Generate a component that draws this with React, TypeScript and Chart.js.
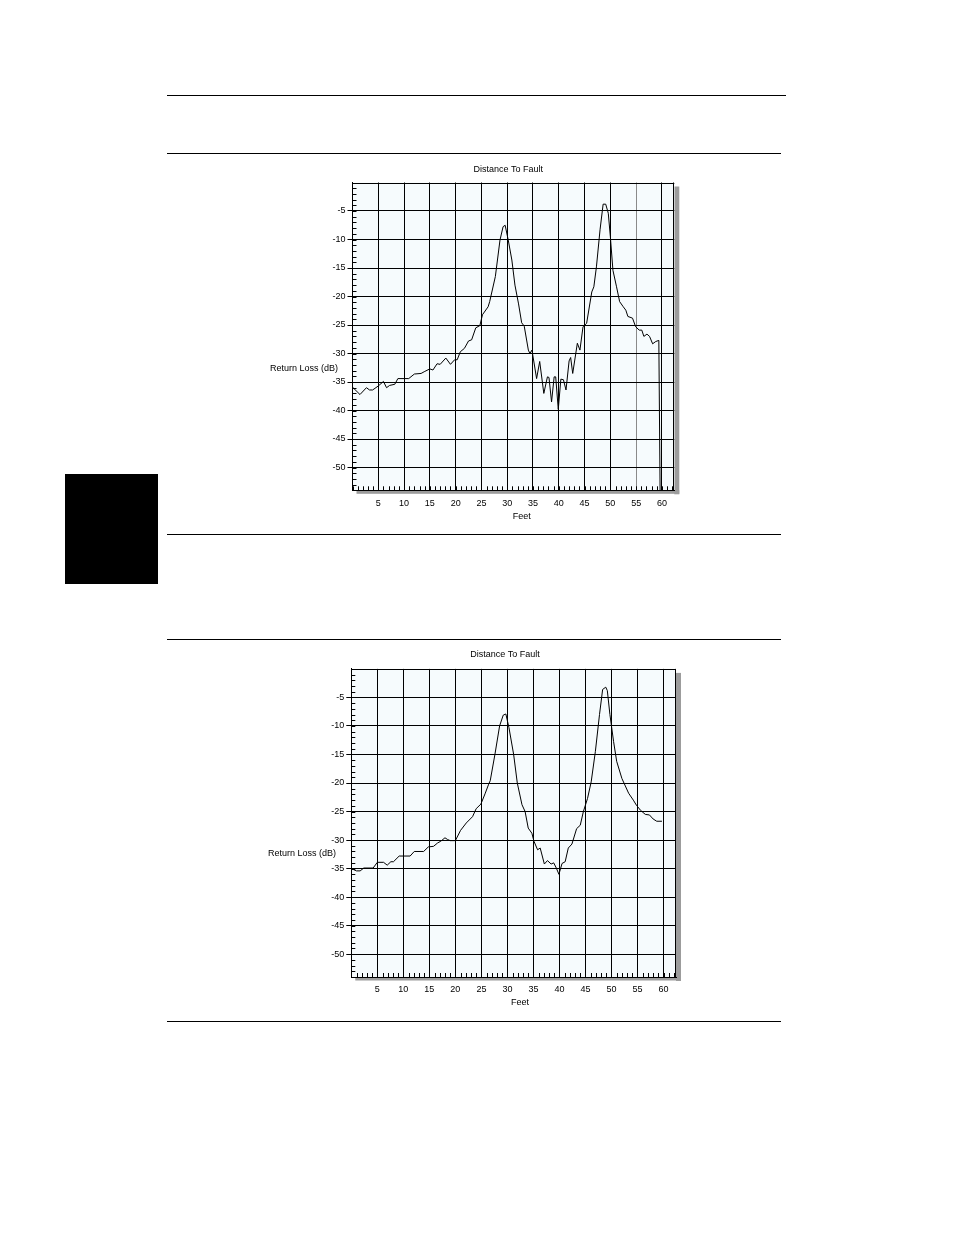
import React, { useEffect, useRef } from "react";
import { Chart, registerables } from "chart.js";

Chart.register(...registerables);

const FONT = '"Liberation Sans", Arial, Helvetica, sans-serif';

const feetTicks = [5, 10, 15, 20, 25, 30, 35, 40, 45, 50, 55, 60];
const lossTicks = [-50, -45, -40, -35, -30, -25, -20, -15, -10, -5];

// first trace (noisy)
const dtf1Feet = [
  0, 1.45, 2.7, 3.3, 3.9, 5.0, 6.0, 6.6, 7.2, 8.2, 8.8, 10.9, 12.0, 13.3, 13.9, 15.0, 15.6, 16.4, 17.0,
  18.1, 19.0, 19.8, 20.3, 20.9, 21.7, 22.5, 23.1, 23.9, 24.7, 25.2, 26.3, 26.6, 27.7, 28.6, 29.2, 29.6,
  30.2, 30.9, 31.5, 32.2, 32.8, 33.3, 34.1, 34.4, 34.8, 35.7, 36.3, 37.1, 37.8, 38.1, 38.6, 39.1, 39.4,
  39.9, 40.4, 40.9, 41.4, 42.0, 42.3, 42.7, 43.6, 44.1, 44.7, 45.4, 46.4, 46.8, 47.3, 48.0, 48.6, 49.1,
  49.6, 50.0, 50.5, 51.2, 51.8, 52.5, 53.0, 53.4, 54.3, 54.9, 55.6, 56.1, 56.5, 57.1, 57.6, 58.2, 58.8,
  59.4, 59.7,
];
const dtf1Loss = [
  -35.9, -37.2, -36.0, -36.4, -36.4, -35.7, -34.9, -36.0, -35.6, -35.4, -34.4, -34.4, -33.6, -33.5, -33.2,
  -32.7, -32.9, -31.8, -31.9, -30.8, -31.9, -31.1, -31.1, -29.7, -29.1, -27.8, -27.6, -25.5, -25.1, -23.2,
  -21.8, -20.9, -16.5, -10.1, -7.75, -7.5, -10.1, -13.6, -18.0, -21.3, -24.6, -25.2, -29.4, -30.0, -29.4,
  -34.4, -31.4, -37.0, -34.1, -34.2, -38.5, -34.1, -34.1, -39.8, -34.5, -34.6, -36.4, -31.3, -30.7, -33.5,
  -28.2, -29.4, -25.3, -24.7, -19.2, -18.3, -14.8, -8.3, -3.8, -3.8, -5.4, -9.5, -15.4, -18.3, -20.9,
  -21.8, -22.4, -23.5, -23.8, -25.3, -25.9, -25.9, -27.0, -26.6, -27.0, -28.3, -27.9, -27.7, -60,
];

// second trace (smooth)
const dtf2Feet = [
  0, 1.0, 1.7, 2.4, 4.2, 5.0, 6.2, 6.9, 7.6, 8.1, 9.2, 11.3, 12.1, 13.9, 14.8, 15.8, 16.6, 17.2, 18.0,
  18.5, 19.0, 20.0, 21.0, 22.1, 23.3, 24.0, 24.9, 25.7, 26.4, 26.7, 27.6, 28.5, 29.2, 29.7, 30.3, 31.2,
  31.9, 32.8, 33.4, 34.0, 34.7, 35.1, 35.8, 36.3, 37.1, 37.7, 38.4, 38.9, 39.4, 39.9, 40.5, 41.1, 41.7,
  42.4, 43.3, 44.0, 44.6, 45.4, 46.1, 46.9, 47.7, 48.3, 48.9, 49.2, 49.7, 50.4, 51.0, 52.0, 53.3, 54.2,
  54.8, 55.6, 56.5, 57.3, 58.0, 58.7, 59.7,
];
const dtf2Loss = [
  -35.0, -35.4, -35.4, -34.9, -34.9, -33.9, -33.9, -34.4, -33.8, -33.8, -32.8, -32.8, -32.0, -32.0, -31.2,
  -31.1, -30.5, -30.2, -29.6, -29.9, -30.1, -30.1, -28.3, -27.0, -25.9, -24.5, -23.7, -21.9, -20.2, -19.6,
  -15.0, -10.0, -8.1, -7.9, -10.3, -15.0, -20.0, -23.8, -25.0, -27.9, -28.8, -30.2, -31.7, -31.4, -34.2,
  -33.6, -34.2, -34.0, -34.9, -36.0, -34.1, -33.8, -31.4, -30.7, -28.0, -27.4, -25.0, -22.7, -19.8, -14.5,
  -8.0, -3.6, -3.2, -3.8, -8.0, -12.7, -16.2, -19.2, -21.8, -23.0, -23.9, -24.8, -25.5, -25.6, -26.3,
  -26.7, -26.7,
];

interface PanelProps {
  feet: number[];
  loss: number[];
  left: number;
  top: number;
  width: number;
  height: number;
  padLeft: number;
  padRight: number;
  padTop: number;
  xAxisHeight: number;
  title: [number, number];
  feetLabel: [number, number];
  lossLabel: [number, number];
  grayGridAt?: number;
}

const Panel: React.FC<PanelProps> = (p) => {
  const canvasRef = useRef<HTMLCanvasElement>(null);

  useEffect(() => {
    if (!canvasRef.current) return;
    const ctx = canvasRef.current.getContext("2d");
    if (!ctx) return;

    const framePlugin = {
      id: "dtfFrame",
      beforeDraw(chart: Chart) {
        const c = chart.ctx;
        const a = chart.chartArea;
        c.save();
        c.fillStyle = "#9c9c9c";
        c.fillRect(a.right, a.top + 4, 5, a.bottom - a.top);
        c.fillRect(a.left + 4, a.bottom, a.right - a.left + 1, 3.5);
        c.fillStyle = "#f6fbfd";
        c.fillRect(a.left, a.top, a.right - a.left, a.bottom - a.top);
        c.restore();
      },
      beforeDatasetsDraw(chart: Chart) {
        const c = chart.ctx;
        const a = chart.chartArea;
        const xs = chart.scales.x;
        const ys = chart.scales.y;
        c.save();
        c.strokeStyle = "#000";
        c.lineWidth = 1;
        c.beginPath();
        for (let v = Math.ceil(xs.min); v <= Math.floor(xs.max); v++) {
          const px = Math.round(xs.getPixelForValue(v)) + 0.5;
          c.moveTo(px, a.bottom);
          c.lineTo(px, a.bottom - 4);
        }
        for (let v = Math.ceil(ys.min); v <= Math.floor(ys.max); v++) {
          const py = Math.round(ys.getPixelForValue(v)) + 0.5;
          c.moveTo(a.left, py);
          c.lineTo(a.left + 4, py);
        }
        c.stroke();
        c.beginPath();
        c.moveTo(a.left, Math.round(a.top) + 0.5);
        c.lineTo(a.right, Math.round(a.top) + 0.5);
        c.moveTo(Math.round(a.right) - 0.5, a.top);
        c.lineTo(Math.round(a.right) - 0.5, a.bottom);
        c.stroke();
        c.restore();
      },
      afterDraw(chart: Chart) {
        const c = chart.ctx;
        c.save();
        c.fillStyle = "#000";
        c.font = `9px ${FONT}`;
        c.textBaseline = "middle";
        c.textAlign = "center";
        c.fillText("Distance To Fault", p.title[0], p.title[1]);
        c.fillText("Feet", p.feetLabel[0], p.feetLabel[1]);
        c.textAlign = "left";
        c.fillText("Return Loss (dB)", p.lossLabel[0], p.lossLabel[1]);
        c.restore();
      },
    };

    const chart = new Chart(ctx, {
      type: "line",
      data: {
        datasets: [
          {
            data: p.feet.map((f, i) => ({ x: f, y: p.loss[i] })),
            borderColor: "#000",
            borderWidth: 1,
            pointRadius: 0,
            tension: 0,
            fill: false,
          },
        ],
      },
      options: {
        responsive: false,
        animation: false,
        events: [],
        layout: { padding: { left: p.padLeft, right: p.padRight, top: p.padTop, bottom: 0 } },
        plugins: {
          legend: { display: false },
          title: { display: false },
          tooltip: { enabled: false },
        },
        scales: {
          x: {
            type: "linear",
            min: 0,
            max: 62.4,
            afterBuildTicks: (s: any) => {
              s.ticks = feetTicks.map((v) => ({ value: v }));
            },
            afterFit: (s: any) => {
              s.height = p.xAxisHeight;
            },
            grid: {
              drawTicks: false,
              lineWidth: 1,
              color: (c: any) => (c.tick && c.tick.value === p.grayGridAt ? "#8a8a8a" : "#000"),
            },
            border: { display: true, color: "#000", width: 1 },
            ticks: {
              padding: 7.5,
              autoSkip: false,
              maxRotation: 0,
              color: "#000",
              font: { family: FONT, size: 9 },
              callback: (v: any) => String(v),
            },
          },
          y: {
            type: "linear",
            min: -54,
            max: 0,
            afterBuildTicks: (s: any) => {
              s.ticks = lossTicks.map((v) => ({ value: v }));
            },
            afterFit: (s: any) => {
              s.width = 30;
            },
            grid: { drawTicks: true, tickLength: 5, lineWidth: 1, color: "#000" },
            border: { display: true, color: "#000", width: 1 },
            ticks: {
              padding: 2,
              autoSkip: false,
              color: "#000",
              font: { family: FONT, size: 9 },
              callback: (v: any) => String(v),
            },
          },
        },
      },
      plugins: [framePlugin],
    });

    return () => {
      chart.destroy();
    };
    // eslint-disable-next-line react-hooks/exhaustive-deps
  }, []);

  return (
    <canvas
      ref={canvasRef}
      width={p.width}
      height={p.height}
      style={{ position: "absolute", left: p.left, top: p.top, width: p.width, height: p.height }}
    />
  );
};

const rule = (top: number, left: number, right: number) => (
  <div
    style={{ position: "absolute", top, left, width: right - left, height: 1, background: "#000" }}
  />
);

const App: React.FC = () => {
  return (
    <div style={{ position: "absolute", left: 0, top: 0, width: 954, height: 1235, background: "#fff" }}>
      {rule(95, 167, 786)}
      {rule(153, 167, 781)}
      {rule(534, 167, 781)}
      {rule(639, 167, 781)}
      {rule(1021, 167, 781)}
      <div style={{ position: "absolute", left: 65, top: 474, width: 93, height: 110, background: "#000" }} />
      <Panel
        feet={dtf1Feet}
        loss={dtf1Loss}
        left={250}
        top={155}
        width={440}
        height={372}
        padLeft={72.5}
        padRight={15.7}
        padTop={27.5}
        xAxisHeight={36.7}
        title={[258.3, 14.3]}
        feetLabel={[271.7, 361.5]}
        lossLabel={[20, 214]}
        grayGridAt={55}
      />
      <Panel
        feet={dtf2Feet}
        loss={dtf2Loss}
        left={250}
        top={640}
        width={440}
        height={372}
        padLeft={71.3}
        padRight={14}
        padTop={28.9}
        xAxisHeight={35}
        title={[255, 15]}
        feetLabel={[270, 362.7]}
        lossLabel={[18, 214]}
      />
    </div>
  );
};

export default App;
